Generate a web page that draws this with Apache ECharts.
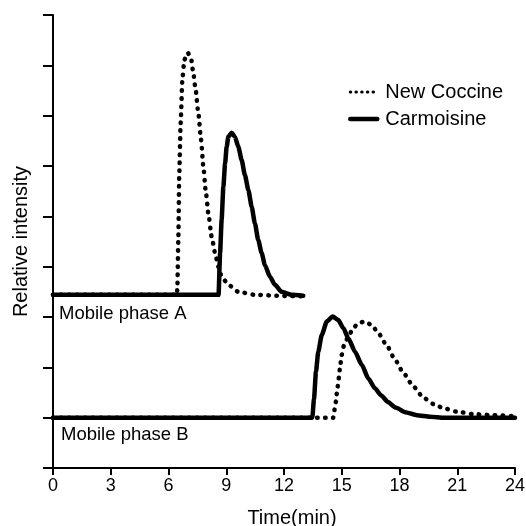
<!DOCTYPE html>
<html>
<head>
<meta charset="utf-8">
<script src="https://cdn.jsdelivr.net/npm/echarts@6/dist/echarts.min.js"></script>
<style>
  html, body { margin: 0; padding: 0; background: #fff; }
  #main { width: 526px; height: 526px; }
</style>
</head>
<body>
<div id="main"></div>
<script>
// time (min) / relative intensity pairs (baselines are offset)
var xTicks = [0, 3, 6, 9, 12, 15, 18, 21, 24];
var seriesNames = ['New Coccine', 'Carmoisine'];
var phaseLabels = ['Mobile phase A', 'Mobile phase B'];

var coccineA = [
    [0, 3.44], [6.44, 3.44], [6.46, 3.6], [6.51, 4.53], [6.56, 5.86], [6.63, 6.85], [6.72, 7.71],
    [6.82, 8.11], [7.0, 8.25], [7.17, 8.14], [7.29, 7.84], [7.41, 7.51], [7.55, 7.05],
    [7.69, 6.52], [7.81, 5.99], [7.93, 5.52], [8.07, 5.06], [8.24, 4.60], [8.42, 4.27],
    [8.59, 4.0], [8.76, 3.80], [9.11, 3.64], [9.63, 3.50], [10.49, 3.44], [11.88, 3.42],
    [13.0, 3.41]
];
var carmoisineA = [
    [0, 3.44], [8.6, 3.44], [8.68, 4.27], [8.76, 4.93], [8.85, 5.59], [8.94, 6.05], [9.02, 6.38],
    [9.11, 6.58], [9.28, 6.66], [9.45, 6.58], [9.63, 6.38], [9.80, 6.12], [9.97, 5.82],
    [10.15, 5.52], [10.32, 5.19], [10.49, 4.86], [10.66, 4.53], [10.84, 4.27], [11.01, 4.03],
    [11.27, 3.80], [11.53, 3.64], [11.88, 3.50], [12.40, 3.44], [13.0, 3.42]
];
var coccineB = [
    [0, 1.0], [14.56, 1.0], [14.6, 1.12], [14.7, 1.32], [14.77, 1.58], [14.86, 1.81], [14.91, 2.01],
    [15.0, 2.25], [15.12, 2.44], [15.34, 2.61], [15.6, 2.78], [15.86, 2.88], [16.21, 2.91],
    [16.56, 2.84], [16.9, 2.68], [17.33, 2.44], [17.77, 2.15], [18.2, 1.89], [18.72, 1.62],
    [19.24, 1.40], [19.76, 1.27], [20.28, 1.19], [20.97, 1.12], [21.83, 1.07], [22.87, 1.05],
    [24, 1.03]
];
var carmoisineB = [
    [0, 1.0], [13.47, 1.0], [13.56, 1.38], [13.66, 1.91], [13.78, 2.31], [13.96, 2.64],
    [14.22, 2.91], [14.53, 3.01], [14.82, 2.94], [15.08, 2.78], [15.34, 2.58], [15.69, 2.31],
    [16.04, 2.05], [16.38, 1.78], [16.73, 1.58], [17.05, 1.44], [17.4, 1.31], [17.8, 1.20],
    [18.3, 1.11], [18.9, 1.05], [19.6, 1.02], [20.3, 1.0], [24, 1.0]
];

var myChart = echarts.init(document.getElementById('main'));

var dotted = { color: '#000', width: 4.5, type: [0.5, 7.5], cap: 'round' };
var solid = { color: '#000', width: 4.5, type: 'solid', cap: 'round', join: 'round' };

function makeLine(name, data, style) {
    return {
        name: name,
        type: 'line',
        data: data,
        symbol: 'none',
        smooth: 0.2,
        smoothMonotone: 'x',
        silent: true,
        color: '#000',
        lineStyle: style
    };
}

var font = 'Arial, "Liberation Sans", sans-serif';
var noSymbol = { color: 'rgba(0,0,0,0)', borderWidth: 0, opacity: 0 };

var option = {
    animation: false,
    backgroundColor: '#fff',
    grid: { left: 53, right: 11, top: 15, bottom: 58, containLabel: false, outerBoundsMode: 'none' },
    legend: {
        orient: 'vertical',
        left: 343,
        top: 77,
        itemWidth: 27,
        itemHeight: 14,
        itemGap: 7,
        textStyle: { color: '#000', fontSize: 20, fontFamily: font, padding: [0, 0, 0, 3] },
        data: [
            { name: seriesNames[0], itemStyle: noSymbol,
              lineStyle: { width: 3, type: [0.5, 5.2], cap: 'round' } },
            { name: seriesNames[1], itemStyle: noSymbol,
              lineStyle: { width: 4.5, type: 'solid' } }
        ]
    },
    xAxis: {
        type: 'value',
        min: 0,
        max: 24,
        interval: 3,
        name: 'Time(min)',
        nameLocation: 'middle',
        nameGap: 40,
        nameTextStyle: { color: '#000', fontSize: 20, fontFamily: font, padding: [0, 0, 0, 16] },
        axisLine: { lineStyle: { color: '#000', width: 2 } },
        axisTick: { length: 7, lineStyle: { color: '#000', width: 2 } },
        axisLabel: { color: '#000', fontSize: 18, fontFamily: font, margin: 9,
            customValues: xTicks },
        splitLine: { show: false }
    },
    yAxis: {
        type: 'value',
        min: 0,
        max: 9,
        interval: 1,
        name: 'Relative intensity',
        nameLocation: 'middle',
        nameGap: 22,
        nameTextStyle: { color: '#000', fontSize: 20, fontFamily: font },
        axisLine: { show: true, lineStyle: { color: '#000', width: 2 } },
        axisTick: { show: true, length: 10, lineStyle: { color: '#000', width: 2 } },
        axisLabel: { show: false },
        splitLine: { show: false }
    },
    graphic: [
        { type: 'text', left: 59, top: 304, style: { text: phaseLabels[0], fill: '#000', fontSize: 18.5, fontFamily: font } },
        { type: 'text', left: 61, top: 425, style: { text: phaseLabels[1], fill: '#000', fontSize: 18.5, fontFamily: font } }
    ],
    series: [
        makeLine(seriesNames[1], carmoisineA, solid),
        makeLine(seriesNames[1], carmoisineB, solid),
        makeLine(seriesNames[0], coccineA, dotted),
        makeLine(seriesNames[0], coccineB, dotted)
    ]
};

myChart.setOption(option);
</script>
</body>
</html>
